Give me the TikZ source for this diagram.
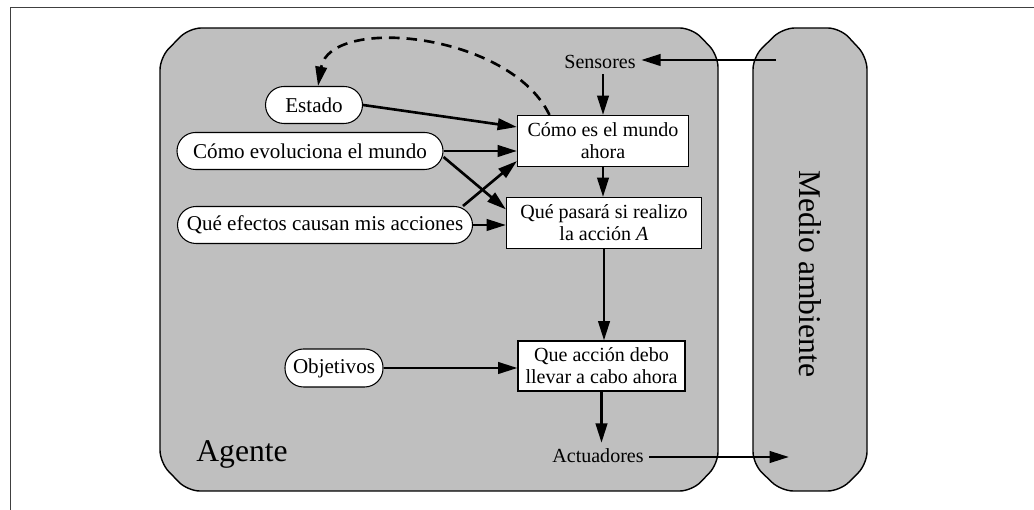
\documentclass[tikz,border=0pt]{standalone}
\usepackage{fontspec}
\setmainfont{Liberation Serif}
\usepackage{tikz}
\usetikzlibrary{arrows.meta}
\tikzstyle{pill} = [draw=black, fill=white, line width=0.6pt, rounded corners=0.37cm, minimum height=0.74cm, inner xsep=2pt, font=\fontsize{12}{13}\selectfont]
\tikzstyle{box} = [rectangle, draw=black, fill=white, line width=0.6pt, minimum height=1.02cm, align=center, inner sep=1pt, font=\fontsize{11.4}{12.4}\selectfont]
\tikzstyle{port} = [font=\fontsize{11.4}{12}\selectfont, inner sep=3pt]
\tikzstyle{panel} = [draw=black, fill=black!25, line width=0.8pt, rounded corners=7pt]
\tikzstyle{arrow} = [line width=1.5pt, -{Triangle[length=11pt,width=6.5pt]}]

\begin{document}
\begin{tikzpicture}
    \useasboundingbox (0,0) rectangle (20.68,10.2);
    % frame
    \draw[black!75, line width=1pt] (0.21,0) -- (0.21,10.05) -- (20.68,10.05);
    % Agente
    \draw[panel] (3.2,0.95) -- (3.2,9.05) -- (3.78,9.64) -- (13.84,9.64) -- (14.36,9.1) -- (14.36,0.92) -- (13.84,0.38) -- (3.75,0.38) -- cycle;
    % Medio ambiente
    \draw[panel] (15.06,0.92) -- (15.06,9.06) -- (15.65,9.64) -- (16.8,9.64) -- (17.34,9.06) -- (17.34,0.92) -- (16.8,0.38) -- (15.62,0.38) -- cycle;
    \node[rotate=-90, font=\fontsize{18}{20}\selectfont] (medio) at (16.2,4.72) {Medio ambiente};
    \node[anchor=base west, inner sep=0pt, font=\fontsize{18}{20}\selectfont] (agente) at (3.92,0.96) {Agente};

    \node[pill, minimum width=1.94cm] (estado) at (6.28,8.10) {Estado};
    \node[pill, minimum width=5.32cm] (evol) at (6.20,7.18) {Cómo evoluciona el mundo};
    \node[pill, minimum width=5.9cm] (efectos) at (6.50,5.70) {Qué efectos causan mis acciones};
    \node[pill, minimum width=1.96cm, minimum height=0.76cm] (objetivos) at (6.68,2.84) {Objetivos};

    \node[box, minimum width=3.42cm] (mundo) at (12.06,7.38) {Cómo es el mundo\\ahora};
    \node[box, minimum width=3.9cm] (pasara) at (12.08,5.74) {Qué pasará si realizo\\la acción \textit{A}};
    \node[box, minimum width=3.34cm, minimum height=1.0cm] (accion) at (12.03,2.88) {Que acción debo\\llevar a cabo ahora};
    \node[port] (sensores) at (12.0,8.96) {Sensores};
    \node[port] (actuadores) at (11.96,1.09) {Actuadores};
    \coordinate (envin) at (15.52,9.0);
    \coordinate (envout) at (15.78,1.06);

    \draw[arrow] (envin) -- (envin -| sensores.east);
    \draw[arrow] (sensores.south -| mundo.north) -- (mundo.north);
    \draw[arrow] (mundo.south) -- (mundo.south |- pasara.north);
    \draw[arrow] (pasara.south) -- (pasara.south |- accion.north);
    \draw[arrow] (accion.south) -- (accion.south |- actuadores.north);
    \draw[arrow] (actuadores.east |- envout) -- (envout);

    \draw[arrow] (estado.east) -- ([yshift=0.28cm]mundo.west);
    \draw[arrow] (evol.east) -- (evol.east -| mundo.west);
    \draw[arrow] ([yshift=-0.12cm]evol.east) -- ([yshift=-0.25cm]pasara.north west);
    \draw[arrow] ([xshift=-0.2cm]efectos.north east) -- ([yshift=0.12cm]mundo.south west);
    \draw[arrow] (efectos.east) -- (efectos.east -| pasara.west);
    \draw[arrow] (objetivos.east) -- (objetivos.east -| accion.west);
    % estado se actualiza
    \draw[arrow, dash pattern=on 6pt off 4pt] ([xshift=0.65cm]mundo.north west) .. controls (10.2,9.55) and (6.6,9.9) .. ([xshift=0.08cm]estado.north);
\end{tikzpicture}
\end{document}
